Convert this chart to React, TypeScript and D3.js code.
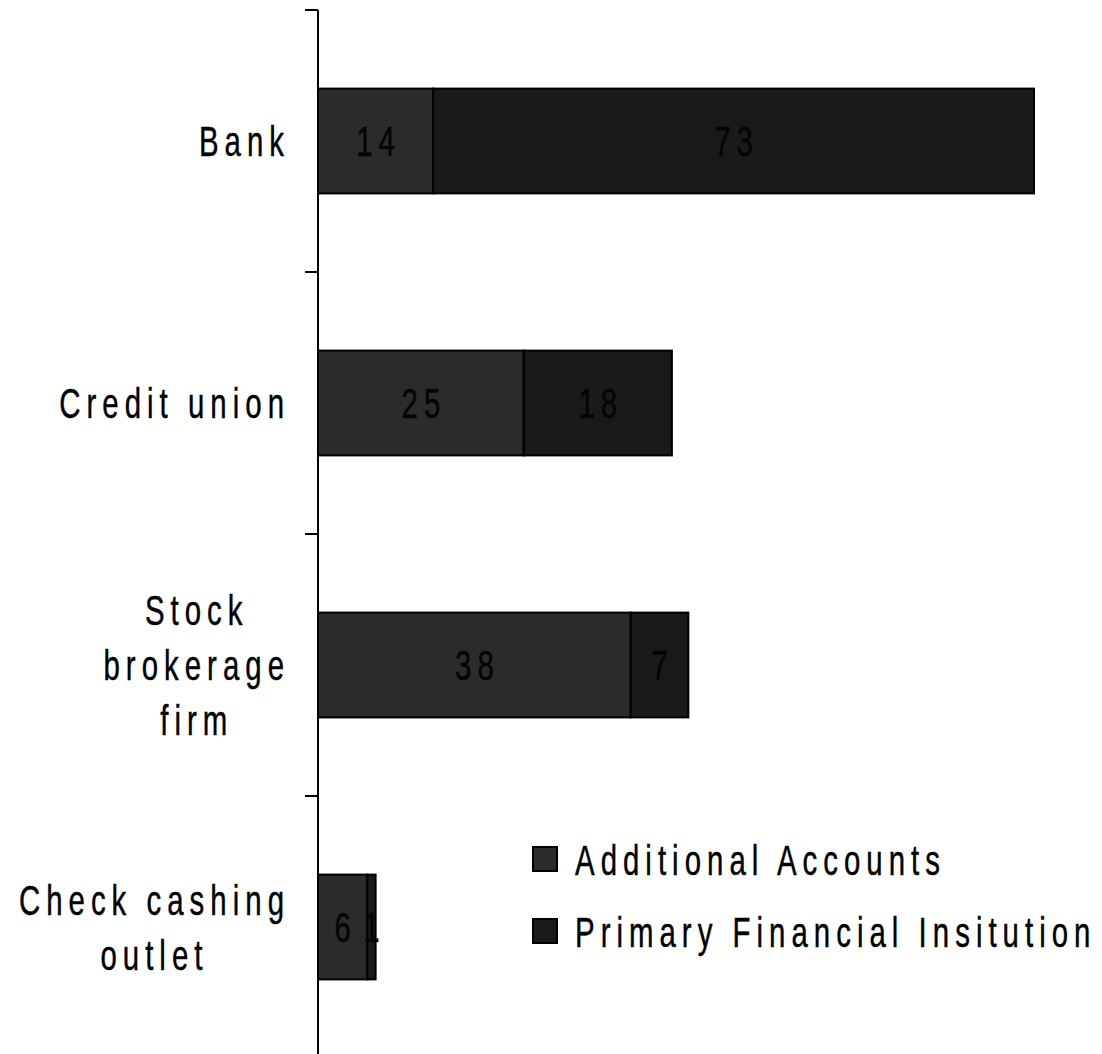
import React, { useEffect, useRef } from "react";
import * as d3 from "d3";

const categories = ["Bank", "Credit union", "Stock brokerage firm", "Check cashing outlet"];
const categoryLines = [["Bank"], ["Credit union"], ["Stock", "brokerage", "firm"], ["Check cashing", "outlet"]];
const additionalAccounts = [14, 25, 38, 6];
const primaryInstitution = [73, 18, 7, 1];
const seriesNames = ["Additional Accounts", "Primary Financial Insitution"];
const seriesColors = ["#2b2b2b", "#1a1a1a"];

// condensed look: Liberation Sans squeezed horizontally, with wide tracking
const FONT = "'Liberation Sans', Arial, sans-serif";
const FS = 42;
const SQUEEZE = 0.7;
const TRACK = 8.6; // letter-spacing before squeeze
const CAP = FS * 0.729;

export default function App() {
  const ref = useRef<SVGSVGElement>(null);

  useEffect(() => {
    const svg = d3.select(ref.current);
    svg.selectAll("*").remove();

    // draws condensed text; anchor: 0 start, 0.5 middle, 1 end (on visible width)
    const label = (parent: any, str: string | number, x: number, baseline: number, anchor: number) => {
      const t = parent.append("text")
        .attr("font-family", FONT)
        .attr("font-size", FS)
        .attr("letter-spacing", TRACK)
        .attr("fill", "#000")
        .attr("stroke", "#000")
        .attr("stroke-width", 0.45)
        .text(str);
      const len = (t.node() as SVGTextElement).getComputedTextLength();
      const w = (len - TRACK) * SQUEEZE;
      t.attr("transform", `translate(${x - w * anchor},${baseline}) scale(${SQUEEZE},1)`);
      return { t, w };
    };

    const axisX = 318;
    const y = d3.scaleBand<string>().domain(categories).range([10, 1058]).paddingInner(0.6).paddingOuter(0.3);
    const x = d3.scaleLinear().domain([0, 87]).range([axisX, 1034]);
    const step = y.step();

    const rows = categories.map((c, i) => ({
      cat: c,
      segs: [
        { v: additionalAccounts[i], x0: 0, x1: additionalAccounts[i], color: seriesColors[0] },
        { v: primaryInstitution[i], x0: additionalAccounts[i], x1: additionalAccounts[i] + primaryInstitution[i], color: seriesColors[1] },
      ],
    }));

    // bars
    rows.forEach((r) => {
      const g = svg.append("g");
      const cy = y(r.cat)! + y.bandwidth() / 2;
      r.segs.forEach((s) => {
        g.append("rect")
          .attr("x", x(s.x0))
          .attr("y", y(r.cat)!)
          .attr("width", x(s.x1) - x(s.x0))
          .attr("height", y.bandwidth())
          .attr("fill", s.color)
          .attr("stroke", "#000")
          .attr("stroke-width", 2);
      });
      r.segs.forEach((s) => {
        label(g, s.v, (x(s.x0) + x(s.x1)) / 2, cy + CAP / 2, 0.5).t.attr("fill", "#050505").attr("stroke", "#050505");
      });
    });

    // axis
    const bandStart = 10;
    svg.append("line")
      .attr("x1", axisX).attr("x2", axisX)
      .attr("y1", bandStart).attr("y2", 1054)
      .attr("stroke", "#000").attr("stroke-width", 2);
    d3.range(categories.length + 1).forEach((i) => {
      svg.append("line")
        .attr("x1", axisX - 13).attr("x2", axisX)
        .attr("y1", bandStart + i * step).attr("y2", bandStart + i * step)
        .attr("stroke", "#000").attr("stroke-width", 2);
    });

    // category labels: lines centred within a block right-aligned near the axis
    const lineH = 55;
    const rightEdge = 284;
    categoryLines.forEach((lines, i) => {
      const cy = y(categories[i])! + y.bandwidth() / 2;
      const g = svg.append("g");
      const items = lines.map((l, j) =>
        label(g, l, 0, cy + CAP / 2 + (j - (lines.length - 1) / 2) * lineH, 0)
      );
      const maxW = d3.max(items, (d) => d.w) || 0;
      items.forEach((it, j) => {
        const bl = cy + CAP / 2 + (j - (lines.length - 1) / 2) * lineH;
        const lx = rightEdge - maxW + (maxW - it.w) / 2;
        it.t.attr("transform", `translate(${lx},${bl}) scale(${SQUEEZE},1)`);
      });
    });

    // legend
    const legendBase = [875, 947];
    seriesNames.forEach((n, i) => {
      svg.append("rect")
        .attr("x", 533).attr("y", legendBase[i] - 28)
        .attr("width", 24).attr("height", 24)
        .attr("fill", seriesColors[i])
        .attr("stroke", "#000").attr("stroke-width", 2);
      label(svg, n, 575, legendBase[i], 0);
    });
  }, []);

  return (
    <svg ref={ref} width={1102} height={1054} style={{ position: "absolute", left: 0, top: 0, background: "#fff" }} />
  );
}
